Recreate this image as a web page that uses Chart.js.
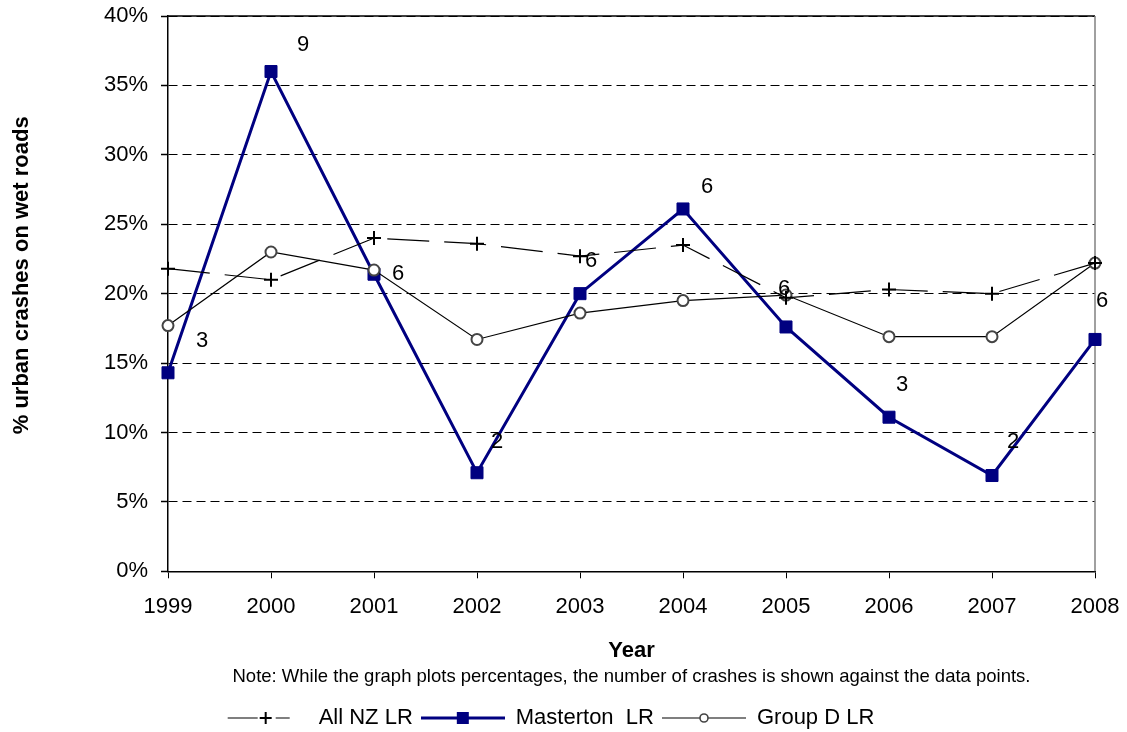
<!DOCTYPE html>
<html>
<head>
<meta charset="utf-8">
<script src="https://cdn.jsdelivr.net/npm/chart.js@4.4.1/dist/chart.umd.min.js"></script>
<style>
  html, body { margin: 0; padding: 0; background: #fff; }
</style>
</head>
<body>
<canvas id="myChart" width="1127" height="732"></canvas>
<script>
// data
const years = ['1999', '2000', '2001', '2002', '2003', '2004', '2005', '2006', '2007', '2008'];
const allNZ = [21.8, 21.0, 24.0, 23.6, 22.7, 23.5, 19.7, 20.3, 20.0, 22.2];
const masterton = [14.3, 36.0, 21.4, 7.1, 20.0, 26.1, 17.6, 11.1, 6.9, 16.7];
const groupD = [17.7, 23.0, 21.7, 16.7, 18.6, 19.5, 19.9, 16.9, 16.9, 22.2];
const crashCounts = [3, 9, 6, 2, 6, 6, 6, 3, 2, 6];
const yMin = 0, yMax = 40, yStep = 5;

// where each count label sits relative to its point (px)
const labelShift = [[34, -32], [32, -27], [24, 0], [20, -31], [11, -33], [24, -22], [-2, -38], [13, -32], [21, -34], [7, -39]];

const FONT = "'Liberation Sans', Arial, sans-serif";
const NAVY = '#000080';

// legend samples: line + marker
function sample(kind) {
  const c = document.createElement('canvas');
  c.width = 84; c.height = 18;
  const g = c.getContext('2d');
  const m = 9, cx = 42;
  if (kind === 'nz') {
    g.strokeStyle = '#000'; g.lineWidth = 1.2;
    g.beginPath(); g.moveTo(4, m); g.lineTo(34, m); g.moveTo(52, m); g.lineTo(66, m); g.stroke();
    g.lineWidth = 2;
    g.beginPath(); g.moveTo(cx - 6, m); g.lineTo(cx + 6, m); g.moveTo(cx, m - 6); g.lineTo(cx, m + 6); g.stroke();
  } else if (kind === 'mast') {
    g.strokeStyle = NAVY; g.lineWidth = 3;
    g.beginPath(); g.moveTo(0, m); g.lineTo(84, m); g.stroke();
    g.fillStyle = NAVY; g.fillRect(cx - 6, m - 6, 12, 12);
  } else {
    g.strokeStyle = '#000'; g.lineWidth = 1.2;
    g.beginPath(); g.moveTo(0, m); g.lineTo(84, m); g.stroke();
    g.fillStyle = '#fff'; g.strokeStyle = '#444'; g.lineWidth = 1.6;
    g.beginPath(); g.arc(cx, m, 4, 0, Math.PI * 2); g.fill(); g.stroke();
  }
  return c;
}

const countLabels = {
  id: 'countLabels',
  afterDatasetsDraw(chart) {
    const meta = chart.getDatasetMeta(1);
    const ctx = chart.ctx;
    ctx.save();
    ctx.font = '22px ' + FONT;
    ctx.fillStyle = '#000';
    ctx.textAlign = 'center';
    ctx.textBaseline = 'middle';
    meta.data.forEach((pt, i) => {
      ctx.fillText(String(crashCounts[i]), pt.x + labelShift[i][0], pt.y + labelShift[i][1]);
    });
    ctx.restore();
  }
};

const frame = {
  id: 'frame',
  beforeDatasetsDraw(chart) {
    const a = chart.chartArea, ctx = chart.ctx;
    ctx.save();
    ctx.lineWidth = 1.5;
    ctx.strokeStyle = '#000';
    ctx.beginPath(); ctx.moveTo(a.left, a.top); ctx.lineTo(a.right, a.top); ctx.stroke();
    ctx.strokeStyle = '#808080';
    ctx.beginPath(); ctx.moveTo(a.right, a.top); ctx.lineTo(a.right, a.bottom); ctx.stroke();
    ctx.restore();
  }
};

Chart.defaults.font.family = FONT;
Chart.defaults.color = '#000';

new Chart(document.getElementById('myChart'), {
  type: 'line',
  data: {
    labels: years,
    datasets: [
      {
        label: 'All NZ LR',
        data: allNZ,
        borderColor: '#000',
        borderWidth: 1.2,
        borderDash: [42, 15],
        pointStyle: 'cross',
        pointRadius: 7,
        pointBorderWidth: 2,
        pointBorderColor: '#000',
        tension: 0,
        fill: false,
        clip: false,
        order: 0,
        legendImg: sample('nz')
      },
      {
        label: 'Masterton  LR',
        data: masterton,
        borderColor: NAVY,
        borderWidth: 3,
        pointStyle: 'rect',
        pointRadius: 8.5,
        pointBackgroundColor: NAVY,
        pointBorderColor: NAVY,
        pointBorderWidth: 1,
        tension: 0,
        fill: false,
        clip: false,
        order: 2,
        legendImg: sample('mast')
      },
      {
        label: 'Group D LR',
        data: groupD,
        borderColor: '#000',
        borderWidth: 1.2,
        pointStyle: 'circle',
        pointRadius: 5.5,
        pointBackgroundColor: '#fff',
        pointBorderColor: '#444',
        pointBorderWidth: 2,
        tension: 0,
        fill: false,
        clip: false,
        order: 1,
        legendImg: sample('grp')
      }
    ]
  },
  options: {
    responsive: false,
    animation: false,
    layout: { padding: { left: 3, right: 32, top: 16, bottom: -7 } },
    plugins: {
      tooltip: { enabled: false },
      subtitle: {
        display: true,
        position: 'bottom',
        fullSize: false,
        weight: 500,
        text: 'Note: While the graph plots percentages, the number of crashes is shown against the data points.',
        color: '#000',
        font: { size: 18.5, weight: 'normal' },
        padding: { top: 2, bottom: 10.5 }
      },
      legend: {
        position: 'bottom',
        labels: {
          usePointStyle: true,
          pointStyleWidth: 84,
          padding: 8,
          color: '#000',
          font: { size: 22 },
          sort: (a, b) => a.datasetIndex - b.datasetIndex,
          generateLabels(chart) {
            return chart.data.datasets.map((ds, i) => ({
              text: ds.label,
              datasetIndex: i,
              pointStyle: ds.legendImg,
              fillStyle: '#000',
              strokeStyle: '#000',
              lineWidth: 0,
              hidden: false,
              fontColor: '#000'
            }));
          }
        }
      }
    },
    scales: {
      x: {
        offset: false,
        grid: { display: true, drawOnChartArea: false, drawTicks: true, tickLength: 7, color: '#000' },
        border: { display: true, color: '#000', width: 1.5 },
        ticks: { font: { size: 22 }, padding: 15, autoSkip: false, maxRotation: 0 },
        title: { display: true, text: 'Year', font: { size: 22, weight: 'bold' }, padding: { top: 2, bottom: 0 } },
        afterFit(scale) {
          scale.height = 93;
          scale.paddingLeft = 0;
          scale.paddingRight = 0;
        }
      },
      y: {
        min: yMin,
        max: yMax,
        ticks: { stepSize: yStep, font: { size: 22 }, padding: 13, callback: v => v + '%' },
        grid: { color: '#000', lineWidth: 1, tickLength: 7, tickColor: '#000', tickWidth: 1.5 },
        border: { display: true, color: '#000', width: 1.5, dash: [9, 5] },
        title: { display: true, text: '      % urban crashes on wet roads', font: { size: 22, weight: 'bold' }, padding: { top: 6, bottom: 0 } },
        afterFit(scale) {
          scale.width = 165;
          scale.paddingTop = 0;
          scale.paddingBottom = 0;
        }
      }
    }
  },
  plugins: [frame, countLabels]
});
</script>
</body>
</html>
